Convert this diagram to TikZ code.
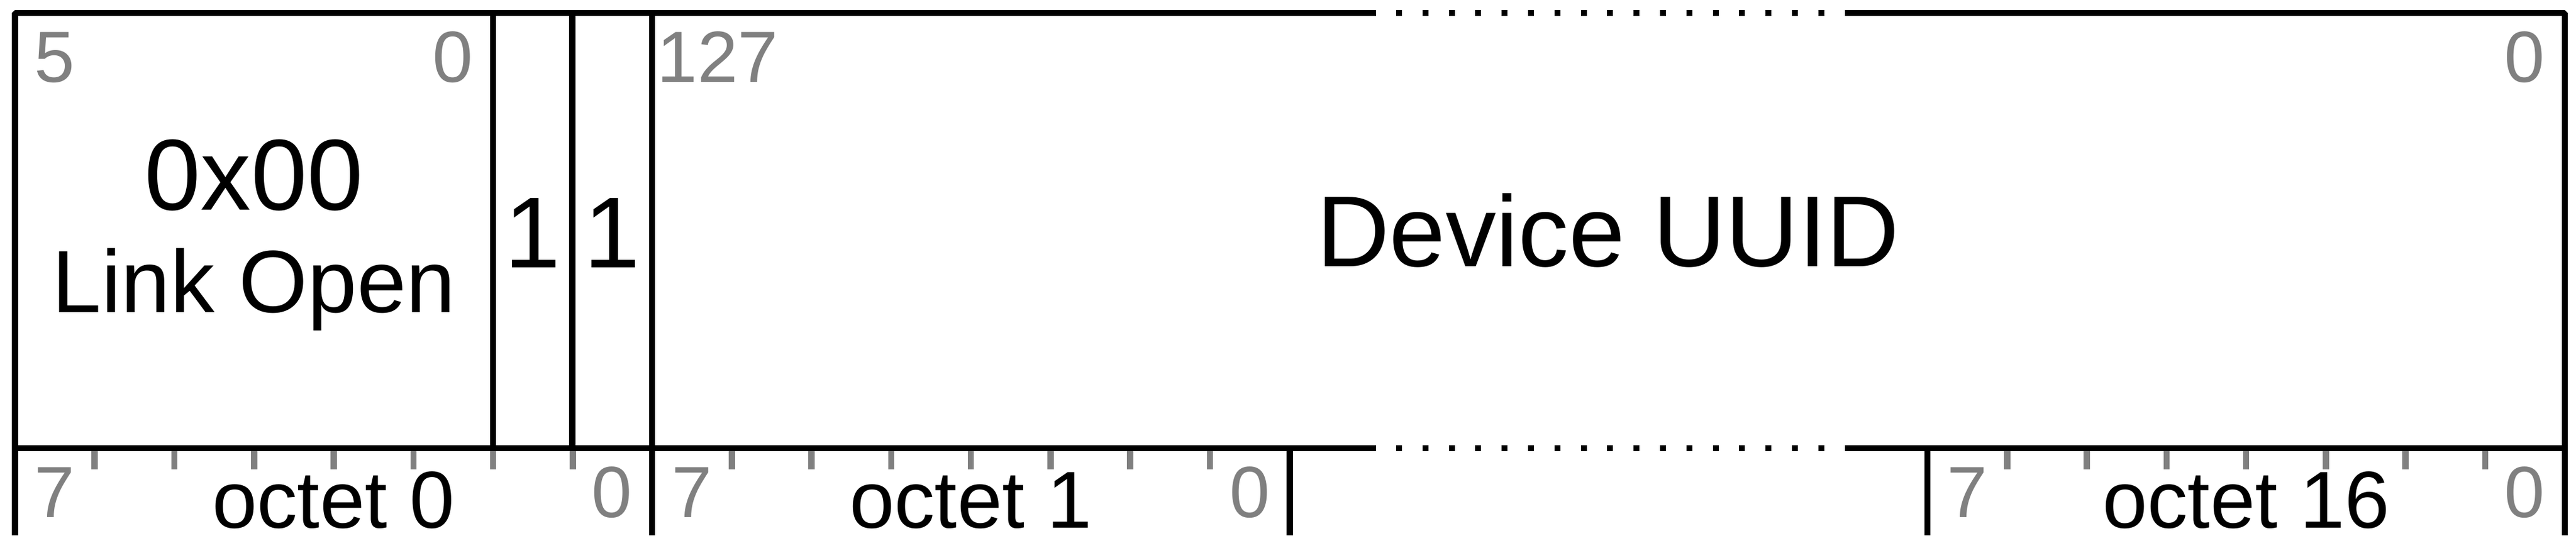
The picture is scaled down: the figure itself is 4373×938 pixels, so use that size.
\documentclass[tikz,border=0pt]{standalone}
\usepackage{fontspec}
\setmainfont{Liberation Sans}
\definecolor{tickgray}{RGB}{128,128,128}
\begin{document}
\begin{tikzpicture}[x=0.01cm,y=-0.01cm,
  frame/.style={line width=0.105cm, draw=black, line join=bevel},
  tickmark/.style={line width=0.105cm, draw=tickgray},
  dotsq/.style={fill=black},
  bitnum/.style={text=tickgray, font=\fontsize{35}{42}\selectfont, inner sep=0pt, anchor=base},
  bigtext/.style={font=\fontsize{48.7}{58}\selectfont, inner sep=0pt, anchor=base},
  midtext/.style={font=\fontsize{42.7}{51}\selectfont, inner sep=0pt, anchor=base},
  octettext/.style={font=\fontsize{39}{47}\selectfont, inner sep=0pt, anchor=base}]
\useasboundingbox (0,0) rectangle (4373,938);
% ticks
\foreach \s in {25.5,1107,3272}{
  \foreach \k in {1,...,7}{
    \draw[tickmark] ({\s+135.25*\k},761) -- ++(0,36);
  }
}
% frame
\draw[frame] (25.5,909) -- (25.5,22) -- (2336,22);
\draw[frame] (3132,22) -- (4354,22) -- (4354,909);
\draw[frame] (25.5,761) -- (2336,761);
\draw[frame] (3132,761) -- (4354,761);
\draw[frame] (837,22) -- (837,761);
\draw[frame] (971.5,22) -- (971.5,761);
\draw[frame] (1107,22) -- (1107,909);
\draw[frame] (2189.5,761) -- (2189.5,909);
\draw[frame] (3272,761) -- (3272,909);
% dotted gaps
\foreach \k in {0,...,16}{
  \fill[dotsq] ({2370+44.8*\k},17) rectangle ++(10,10);
  \fill[dotsq] ({2370+44.8*\k},756) rectangle ++(10,10);
}
% bit numbers
\node[bitnum] (t5) at (93,139) {5};
\node[bitnum] (t0a) at (769,139) {0};
\node[bitnum, anchor=base west] (t127) at (1115,139) {127};
\node[bitnum] (t0b) at (4286,139) {0};
\node[bitnum] (b7a) at (93,878) {7};
\node[bitnum] (b0a) at (1039,878) {0};
\node[bitnum] (b7b) at (1175,878) {7};
\node[bitnum] (b0b) at (2122,878) {0};
\node[bitnum] (b7c) at (3340,878) {7};
\node[bitnum] (b0c) at (4286,878) {0};
% field texts
\node[bigtext] (op) at (431,356) {0x00};
\node[midtext] (opname) at (431,530) {Link Open};
\node[bigtext] (one1) at (904,454) {1};
\node[bigtext] (one2) at (1039,454) {1};
\node[bigtext] (uuid) at (2730,452.5) {Device UUID};
% octet labels
\node[octettext] (oc0) at (566,896) {octet 0};
\node[octettext] (oc1) at (1648,896) {octet 1};
\node[octettext] (oc16) at (3813,896) {octet 16};
\end{tikzpicture}
\end{document}
